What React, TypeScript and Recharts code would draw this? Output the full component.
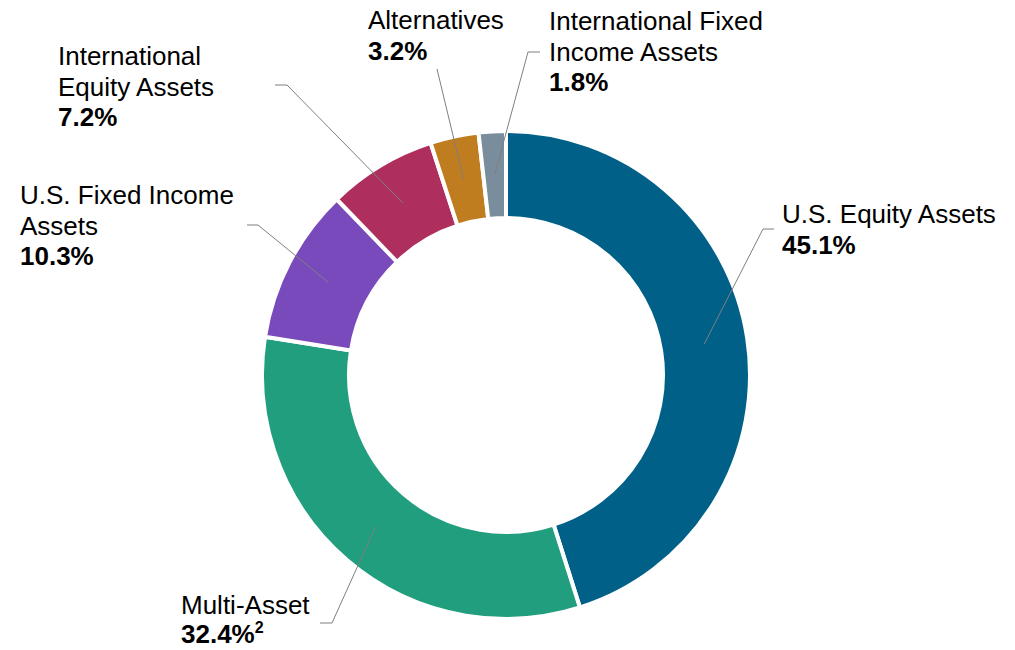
import { PieChart, Pie, Cell } from "recharts";

const names = [
  "U.S. Equity Assets",
  "Multi-Asset",
  "U.S. Fixed Income Assets",
  "International Equity Assets",
  "Alternatives",
  "International Fixed Income Assets",
];
const values = [45.1, 32.4, 10.3, 7.2, 3.2, 1.8];
const valueLabels = ["45.1%", "32.4%", "10.3%", "7.2%", "3.2%", "1.8%"];
const footnotes = ["", "2", "", "", "", ""];
const labelLines = [
  ["U.S. Equity Assets"],
  ["Multi-Asset"],
  ["U.S. Fixed Income", "Assets"],
  ["International", "Equity Assets"],
  ["Alternatives"],
  ["International Fixed", "Income Assets"],
];
const colors = ["#006088", "#219e7e", "#784abc", "#ae2f5e", "#c07d20", "#7a8d9c"];

// label placement (layout only)
const labelPos = [
  { x: 782, y: 223, elbow: [763, 229], end: [774, 229] },
  { x: 181, y: 614, elbow: [332, 623], end: [320, 623] },
  { x: 20, y: 204, elbow: [258, 225], end: [247, 225] },
  { x: 58, y: 65, elbow: [287, 85], end: [275, 85] },
  { x: 368, y: 29, elbow: [437, 69], end: [437, 69] },
  { x: 549, y: 30, elbow: [528, 52], end: [540, 52] },
];

const data = names.map((name, i) => ({ name, value: values[i] }));

const RADIAN = Math.PI / 180;
const LINE_H = 30.5;

function renderLabel(props: any) {
  const { cx, cy, midAngle, innerRadius, outerRadius, index } = props;
  const r = (innerRadius + outerRadius) / 2;
  const sx = cx + r * Math.cos(-midAngle * RADIAN);
  const sy = cy + r * Math.sin(-midAngle * RADIAN);
  const pos = labelPos[index];
  const lines = labelLines[index];
  const lh = index === 1 ? 29 : LINE_H;
  return (
    <g key={`lbl-${index}`}>
      <polyline
        points={`${sx},${sy} ${pos.elbow[0]},${pos.elbow[1]} ${pos.end[0]},${pos.end[1]}`}
        fill="none"
        stroke="#7f7f7f"
        strokeWidth={1}
      />
      <text
        x={pos.x}
        y={pos.y}
        fontFamily="'Liberation Sans', Arial, sans-serif"
        fontSize={26}
        fill="#000"
      >
        {lines.map((l, j) => (
          <tspan key={j} x={pos.x} dy={j === 0 ? 0 : lh}>
            {l}
          </tspan>
        ))}
        <tspan x={pos.x} dy={lh} fontWeight="bold">
          {valueLabels[index]}
        </tspan>
        {footnotes[index] && (
          <tspan fontWeight="bold" fontSize={16} dy={-10}>
            {footnotes[index]}
          </tspan>
        )}
      </text>
    </g>
  );
}

export default function App() {
  return (
    <div style={{ position: "absolute", left: 0, top: 0, background: "#fff" }}>
      <PieChart
        width={1015}
        height={650}
        margin={{ top: 0, right: 0, bottom: 0, left: 0 }}
      >
        <Pie
          data={data}
          dataKey="value"
          nameKey="name"
          cx={506}
          cy={375}
          innerRadius={157}
          outerRadius={244}
          startAngle={90}
          endAngle={-270}
          stroke="#fff"
          strokeWidth={4}
          label={renderLabel}
          labelLine={false}
          isAnimationActive={false}
        >
          {data.map((d, i) => (
            <Cell key={d.name} fill={colors[i]} />
          ))}
        </Pie>
      </PieChart>
    </div>
  );
}
